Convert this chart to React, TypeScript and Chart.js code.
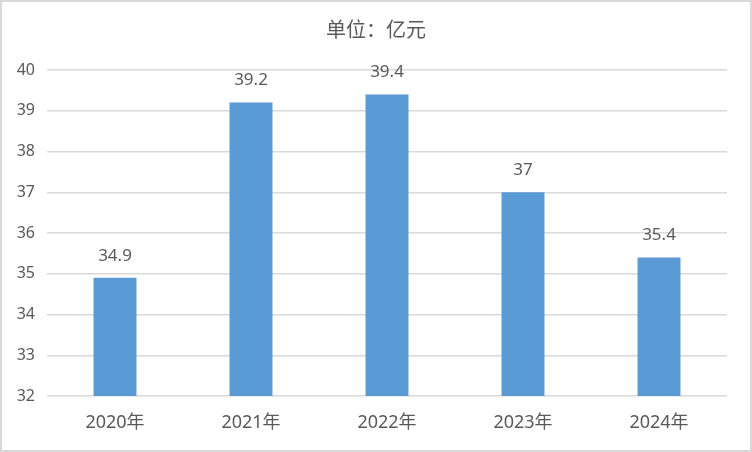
import React, { useEffect, useRef } from "react";
import { Chart, registerables } from "chart.js";

Chart.register(...registerables);

const categories = ["2020年", "2021年", "2022年", "2023年", "2024年"];
const values = [34.9, 39.2, 39.4, 37, 35.4];
const yMin = 32;
const yMax = 40;
const titleText = "单位：亿元";

const FONT = '"Noto Sans", "Noto Sans CJK SC", sans-serif';
const TEXT = "#595959";
const GRID = "#d9d9d9";
const BAR = "#5b9bd5";

export default function App() {
  const ref = useRef<HTMLCanvasElement | null>(null);

  useEffect(() => {
    document.body.style.margin = "0";
    const canvas = ref.current;
    if (!canvas) return;

    const borderPlugin = {
      id: "outerBorder",
      afterDraw(chart: any) {
        const ctx = chart.ctx;
        ctx.save();
        ctx.strokeStyle = GRID;
        ctx.lineWidth = 2;
        ctx.strokeRect(1, 1, chart.width - 2, chart.height - 2);
        ctx.restore();
      },
    };

    const labelPlugin = {
      id: "valueLabels",
      afterDatasetsDraw(chart: any) {
        const ctx = chart.ctx;
        const meta = chart.getDatasetMeta(0);
        ctx.save();
        ctx.fillStyle = TEXT;
        ctx.font = `17px ${FONT}`;
        ctx.textAlign = "center";
        ctx.textBaseline = "middle";
        meta.data.forEach((bar: any, i: number) => {
          ctx.fillText(String(values[i]), bar.x, bar.y - 22);
        });
        ctx.restore();
      },
    };

    const chart = new Chart(canvas, {
      type: "bar",
      data: {
        labels: categories,
        datasets: [
          {
            data: values,
            backgroundColor: BAR,
            borderWidth: 0,
            categoryPercentage: 1,
            barPercentage: 0.316,
            yAxisID: "y",
          },
        ],
      },
      options: {
        animation: false,
        responsive: false,
        maintainAspectRatio: false,
        layout: { padding: { left: 0, right: 0, top: 0, bottom: 0 } },
        plugins: {
          legend: { display: false },
          tooltip: { enabled: false },
          title: {
            display: true,
            text: titleText,
            color: TEXT,
            font: { family: FONT, size: 20, weight: "normal" },
            padding: { top: 19, bottom: 27 },
          },
        },
        scales: {
          x: {
            grid: { display: false, drawTicks: false },
            border: { display: false },
            ticks: {
              color: TEXT,
              font: { family: FONT, size: 18 },
              padding: 16,
            },
            afterFit(scale: any) {
              scale.height = 56;
            },
          },
          y: {
            min: yMin,
            max: yMax,
            grid: { color: GRID, lineWidth: 1.5, drawTicks: false },
            border: { display: false },
            ticks: {
              stepSize: 1,
              color: TEXT,
              font: { family: FONT, size: 16 },
              padding: 12,
            },
            afterFit(scale: any) {
              scale.width = 47;
            },
          },
          yRight: {
            position: "right",
            min: yMin,
            max: yMax,
            grid: { display: false, drawTicks: false },
            border: { display: false },
            ticks: { display: false },
            afterFit(scale: any) {
              scale.width = 25;
            },
          },
        },
      },
      plugins: [labelPlugin, borderPlugin],
    } as any);

    return () => chart.destroy();
  }, []);

  return (
    <div style={{ width: 752, height: 452 }}>
      <canvas ref={ref} width={752} height={452} style={{ display: "block" }} />
    </div>
  );
}
